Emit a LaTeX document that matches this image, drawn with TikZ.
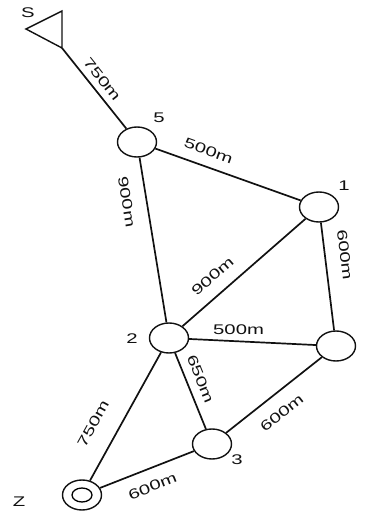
\documentclass[tikz,border=0pt]{standalone}
\usepackage{fontspec}
\setmainfont{Liberation Sans}
\newfontfamily\widefont[FakeStretch=1.45]{Liberation Sans}
\usetikzlibrary{shapes.geometric}
\definecolor{Ink}{HTML}{111111}
\tikzset{
 every node/.style={font=\widefont\fontsize{14}{16}\selectfont,text=Ink},
 road/.style={draw=Ink,line width=1.7pt},
 junc/.style={ellipse,draw=Ink,line width=1.4pt,fill=white,minimum width=39pt,minimum height=30pt,inner sep=0pt},
 tag/.style={inner sep=#1,sloped},
 tag/.default=6pt,
 jlabel/.style={inner sep=0pt},
}

\begin{document}
\begin{tikzpicture}[x=1pt,y=-1pt]
 \useasboundingbox (0,0) rectangle (367,512);
 % junctions
 \node[junc] (n5) at (137,142) {};
 \node[junc] (n1) at (319,207) {};
 \node[junc] (n2) at (169,338) {};
 \node[junc] (n4) at (336,346) {};
 \node[junc] (n3) at (212,444) {};
 \node[junc] (z) at (82,495) {};
 \draw[line width=1.3pt] (z.center) ellipse [x radius=10pt,y radius=7pt];
 % start flag
 \draw[road,line width=1.4pt,line join=miter] (26,29) -- (62,11) -- (62,48) -- cycle;
 \coordinate (s) at (62,48);
 % routes
 \draw[road] (s) -- node[tag=6pt,above,pos=.48]{750m} (n5);
 \draw[road] (n5) -- node[tag=10pt,above,pos=.33]{500m} (n1);
 \draw[road] (n5) -- node[tag=14pt,below,pos=.25]{900m} (n2);
 \draw[road] (n1) -- node[tag=14pt,above,pos=.32]{600m} (n4);
 \draw[road] (n2) -- node[tag=12pt,above,pos=.34]{900m} (n1);
 \draw[road] (n2) -- node[inner sep=6pt,above,pos=.39]{500m} (n4);
 \draw[road] (n2) -- node[tag=8pt,above,pos=.41]{650m} (n3);
 \draw[road] (n3) -- node[tag=13pt,below,pos=.46]{600m} (n4);
 \draw[road] (z) -- node[tag=19pt,above,pos=.35]{750m} (n2);
 \draw[road] (z) -- node[tag=12pt,below,pos=.49]{600m} (n3);
 % junction names
 \node[jlabel] (l5) at (159,118) {5};
 \node[jlabel] (l1) at (344,186) {1};
 \node[jlabel] (l2) at (132,339) {2};
 \node[jlabel] (l3) at (237,460) {3};
 \node[jlabel] (lz) at (19,502) {Z};
 \node[jlabel] (ls) at (28,13) {S};
\end{tikzpicture}
\end{document}
